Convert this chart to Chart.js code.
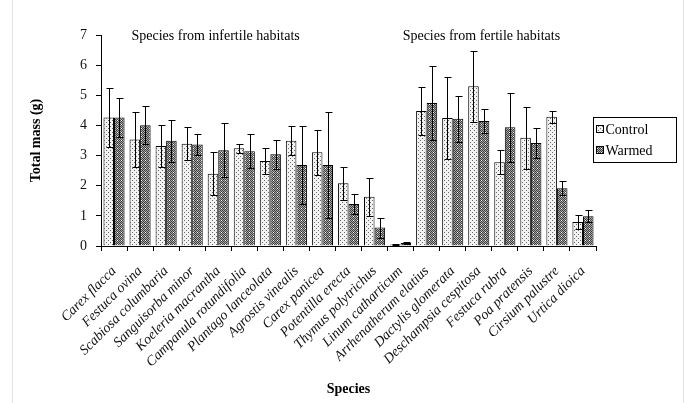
<!DOCTYPE html>
<html>
<head>
<meta charset="utf-8">
<script src="https://cdn.jsdelivr.net/npm/chart.js@4.4.1/dist/chart.umd.min.js"></script>
<style>
  html, body { margin: 0; padding: 0; background: #fff; }
  #wrap { width: 684px; height: 403px; position: relative; }
</style>
</head>
<body>
<div id="wrap"><canvas id="c" width="684" height="403"></canvas></div>
<script>
// Species, ordered: infertile habitats first, then fertile habitats
const species = [
  'Carex flacca', 'Festuca ovina', 'Scabiosa columbaria', 'Sanguisorba minor',
  'Koeleria macrantha', 'Campanula rotundifolia', 'Plantago lanceolata',
  'Agrostis vinealis', 'Carex panicea', 'Potentilla erecta', 'Thymus polytrichus',
  'Linum catharticum', 'Arrhenatherum elatius', 'Dactylis glomerata',
  'Deschampsia cespitosa', 'Festuca rubra', 'Poa pratensis', 'Cirsium palustre',
  'Urtica dioica'
];

// Mean total mass (g) and error (g)
const controlMass = [4.26, 3.53, 3.32, 3.39, 2.40, 3.24, 2.82, 3.49, 3.11, 2.08, 1.63, 0.05, 4.48, 4.25, 5.30, 2.78, 3.59, 4.29, 0.80];
const controlErr  = [0.98, 0.90, 0.70, 0.55, 0.72, 0.15, 0.42, 0.48, 0.74, 0.54, 0.62, 0.02, 0.80, 1.35, 1.17, 0.40, 1.03, 0.20, 0.23];
const warmedMass  = [4.26, 4.01, 3.49, 3.37, 3.18, 3.14, 3.04, 2.69, 2.69, 1.39, 0.61, 0.10, 4.74, 4.22, 4.15, 3.94, 3.42, 1.92, 0.99];
const warmedErr   = [0.65, 0.63, 0.70, 0.35, 0.90, 0.56, 0.49, 1.29, 1.75, 0.33, 0.33, 0.02, 1.22, 0.77, 0.39, 1.15, 0.50, 0.23, 0.21];

const seriesNames = ['Control', 'Warmed'];
const groupLabels = ['Species from infertile habitats', 'Species from fertile habitats'];
const yTicks = [0, 1, 2, 3, 4, 5, 6, 7];

const SERIF = '"Liberation Serif", "Times New Roman", serif';

// Fill patterns: a light stipple and a dark checker
function makePattern(kind) {
  const t = document.createElement('canvas');
  t.width = 4; t.height = 4;
  const g = t.getContext('2d');
  if (kind === 'light') {
    g.fillStyle = '#f2f2f2'; g.fillRect(0, 0, 4, 4);
    g.fillStyle = '#6a6a6a';
    g.fillRect(0, 0, 1, 1); g.fillRect(2, 2, 1, 1);
  } else {
    for (let y = 0; y < 4; y++) for (let x = 0; x < 4; x++) {
      g.fillStyle = ((x + y) % 2 === 0) ? '#3c3c3c' : '#a8a8a8';
      g.fillRect(x, y, 1, 1);
    }
    g.fillStyle = '#ffffff';
    g.fillRect(1, 0, 1, 1);
  }
  return document.getElementById('c').getContext('2d').createPattern(t, 'repeat');
}
const lightFill = makePattern('light');
const darkFill = makePattern('dark');

// Error bars drawn from each bar's value and error
const errorBars = {
  id: 'errorBars',
  afterDatasetsDraw(chart) {
    const { ctx, scales: { y } } = chart;
    ctx.save();
    ctx.strokeStyle = '#000';
    ctx.lineWidth = 1;
    chart.data.datasets.forEach((ds, di) => {
      const meta = chart.getDatasetMeta(di);
      meta.data.forEach((bar, i) => {
        const v = ds.data[i], e = ds.errors[i];
        const x = Math.round(bar.x) + 0.5;
        const yt = Math.round(y.getPixelForValue(v + e)) + 0.5;
        const yb = Math.round(y.getPixelForValue(Math.max(0, v - e))) + 0.5;
        ctx.beginPath();
        ctx.moveTo(x, yt); ctx.lineTo(x, yb);
        ctx.moveTo(x - 3, yt); ctx.lineTo(x + 4, yt);
        ctx.moveTo(x - 3, yb); ctx.lineTo(x + 4, yb);
        ctx.stroke();
      });
    });
    ctx.restore();
  }
};

// Group captions, legend box and frame
const decorations = {
  id: 'decorations',
  afterDraw(chart) {
    const { ctx, scales: { x, y } } = chart;
    ctx.save();
    // faint frame edges
    ctx.strokeStyle = '#e4e4e4';
    ctx.lineWidth = 1;
    ctx.beginPath();
    ctx.moveTo(12.5, 0); ctx.lineTo(12.5, 403);
    ctx.moveTo(683.5, 0); ctx.lineTo(683.5, 403);
    ctx.stroke();

    // group captions
    ctx.fillStyle = '#000';
    ctx.font = '14px ' + SERIF;
    ctx.textAlign = 'center';
    ctx.textBaseline = 'middle';
    const capY = y.getPixelForValue(7) + 1;
    const interp = (p) => {
      const i = Math.floor(p), f = p - i;
      return x.getPixelForValue(i) * (1 - f) + x.getPixelForValue(i + 1) * f;
    };
    ctx.fillText(groupLabels[0], interp(3.9), capY);
    ctx.fillText(groupLabels[1], interp(14.1), capY);

    // legend
    const lx = 593.5, ly = 117.5, lw = 83, lh = 45;
    ctx.fillStyle = '#fff';
    ctx.fillRect(lx, ly, lw, lh);
    ctx.strokeStyle = '#000';
    ctx.strokeRect(lx, ly, lw, lh);
    const fills = [lightFill, darkFill];
    ctx.textAlign = 'left';
    ctx.font = '14px ' + SERIF;
    seriesNames.forEach((name, k) => {
      const cy = ly + 12 + k * 21;
      ctx.fillStyle = fills[k];
      ctx.fillRect(lx + 3, cy - 4, 7, 7);
      ctx.strokeStyle = '#000';
      ctx.strokeRect(lx + 3, cy - 4, 7, 7);
      ctx.fillStyle = '#000';
      ctx.fillText(name, lx + 12, cy + 0.5);
    });
    ctx.restore();
  }
};

new Chart(document.getElementById('c'), {
  type: 'bar',
  data: {
    labels: species,
    datasets: [
      { label: seriesNames[0], data: controlMass, errors: controlErr,
        backgroundColor: lightFill, borderColor: '#000', borderWidth: 1 },
      { label: seriesNames[1], data: warmedMass, errors: warmedErr,
        backgroundColor: darkFill, borderColor: '#000', borderWidth: 1 }
    ]
  },
  options: {
    responsive: false,
    animation: false,
    devicePixelRatio: 1,
    layout: { padding: { top: 35, right: 88, left: 0, bottom: 0 } },
    datasets: { bar: { categoryPercentage: 0.81, barPercentage: 1.0 } },
    plugins: { legend: { display: false }, tooltip: { enabled: false } },
    scales: {
      x: {
        grid: { display: true, drawOnChartArea: false, drawTicks: true, tickLength: 5, color: '#000', offset: true },
        border: { display: true, color: '#000', width: 1 },
        ticks: {
          autoSkip: false, maxRotation: 45, minRotation: 45, padding: 12,
          color: '#111', font: { family: SERIF, size: 14, style: 'italic' }
        },
        title: { display: true, text: 'Species', color: '#000',
          font: { family: SERIF, size: 14, weight: 'bold' }, padding: { top: 0, bottom: 5 } },
        afterFit(scale) { scale.height = 157; }
      },
      y: {
        min: 0, max: 7,
        afterBuildTicks(scale) { scale.ticks = yTicks.map(v => ({ value: v })); },
        grid: { display: true, drawOnChartArea: false, drawTicks: true, tickLength: 5, color: '#000' },
        border: { display: true, color: '#000', width: 1 },
        ticks: { padding: 9, color: '#111', font: { family: SERIF, size: 14 } },
        title: { display: true, text: 'Total mass (g)', color: '#000',
          font: { family: SERIF, size: 14, weight: 'bold' }, padding: { top: 28, bottom: 0 } },
        afterFit(scale) { scale.width = 101; }
      }
    }
  },
  plugins: [errorBars, decorations]
});
</script>
</body>
</html>
